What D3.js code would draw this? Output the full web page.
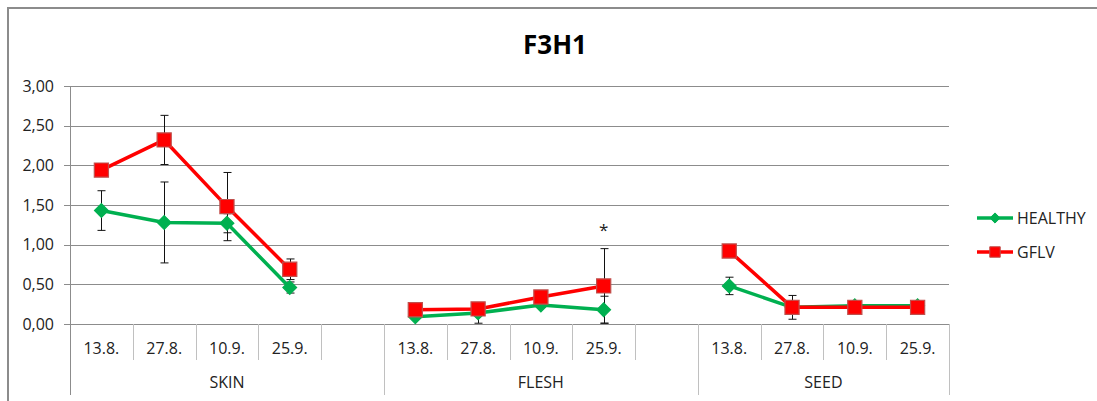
<!DOCTYPE html>
<html>
<head>
<meta charset="utf-8">
<script src="https://cdn.jsdelivr.net/npm/d3@7/dist/d3.min.js"></script>
<style>
  body { margin: 0; background: #fff; }
  svg { display: block; font-family: "Open Sans", sans-serif; }
</style>
</head>
<body>
<div class="graphic"></div>
<script>
// data
var groups = ["SKIN", "FLESH", "SEED"];
var groupSlots = [5, 5, 4];
var dates = ["13.8.", "27.8.", "10.9.", "25.9.", "",
             "13.8.", "27.8.", "10.9.", "25.9.", "",
             "13.8.", "27.8.", "10.9.", "25.9."];
var healthy    = [1.43, 1.28, 1.27, 0.46, null, 0.09, 0.14, 0.24, 0.18, null, 0.48, 0.21, 0.23, 0.23];
var healthyErr = [0.25, 0.51, 0.12, 0.07, null, 0.02, 0.13, 0.03, 0.17, null, 0.11, 0.15, 0.03, 0.03];
var gflv       = [1.94, 2.32, 1.48, 0.69, null, 0.18, 0.19, 0.34, 0.48, null, 0.92, 0.21, 0.21, 0.21];
var gflvErr    = [0.03, 0.31, 0.43, 0.13, null, 0.02, 0.02, 0.03, 0.47, null, 0.03, 0.03, 0.03, 0.03];
var yTicks = [0, 0.5, 1, 1.5, 2, 2.5, 3];
var marks = [{ i: 8, text: "*" }];

var render = function() {
  var W = 1097, H = 401;
  var left = 70, right = 949, top = 86, bottom = 324;
  var fs = 16;

  var svg = d3.select(".graphic").append("svg")
    .attr("width", W).attr("height", H);

  // chart frame
  svg.append("rect")
    .attr("x", 8).attr("y", 8).attr("width", W + 20).attr("height", H + 20)
    .attr("fill", "none").attr("stroke", "#8c8c8c").attr("stroke-width", 2);

  var x = d3.scaleBand().domain(d3.range(dates.length)).range([left, right]).padding(0);
  var y = d3.scaleLinear().domain([0, 3]).range([bottom, top]);
  var cx = function(i) { return x(i) + x.bandwidth() / 2; };

  // gridlines + y ticks
  svg.append("g").selectAll("line").data(yTicks).join("line")
    .attr("x1", left - 6).attr("x2", right)
    .attr("y1", function(d) { return Math.round(y(d)) + 0.5; })
    .attr("y2", function(d) { return Math.round(y(d)) + 0.5; })
    .attr("stroke", "#8c8c8c").attr("stroke-width", 1);

  svg.append("g").selectAll("text").data(yTicks).join("text")
    .attr("x", 54).attr("y", function(d) { return y(d) + 5.5; })
    .attr("text-anchor", "end").attr("font-size", fs).attr("fill", "#222")
    .text(function(d) { return d3.format(".2f")(d).replace(".", ","); });

  // y axis line
  svg.append("line")
    .attr("x1", left + 0.5).attr("x2", left + 0.5).attr("y1", top).attr("y2", 395)
    .attr("stroke", "#8c8c8c");

  // category dividers
  var groupEdges = [0];
  groupSlots.forEach(function(n, k) { groupEdges.push(groupEdges[k] + n); });
  var edges = d3.range(1, dates.length + 1);
  svg.append("g").selectAll("line").data(edges).join("line")
    .attr("x1", function(i) { return Math.round(i < dates.length ? x(i) : right) + 0.5; })
    .attr("x2", function(i) { return Math.round(i < dates.length ? x(i) : right) + 0.5; })
    .attr("y1", bottom)
    .attr("y2", function(i) { return groupEdges.indexOf(i) >= 0 ? 395 : 360; })
    .attr("stroke", "#c0c0c0");

  svg.append("g").selectAll("text").data(dates).join("text")
    .attr("x", function(d, i) { return cx(i); }).attr("y", 354)
    .attr("text-anchor", "middle").attr("font-size", fs).attr("fill", "#222")
    .text(function(d) { return d; });

  svg.append("g").selectAll("text").data(groups).join("text")
    .attr("x", function(d, k) {
      var a = x(groupEdges[k]);
      var b = groupEdges[k + 1] < dates.length ? x(groupEdges[k + 1]) : right;
      return (a + b) / 2;
    })
    .attr("y", 388).attr("text-anchor", "middle").attr("font-size", fs).attr("fill", "#222")
    .text(function(d) { return d; });

  // title
  svg.append("text").attr("x", 555).attr("y", 54).attr("text-anchor", "middle")
    .attr("font-size", 26).attr("font-weight", "bold").attr("fill", "#000").text("F3H1");

  var series = [
    { name: "HEALTHY", vals: healthy, err: healthyErr, color: "#00b050", shape: d3.symbolDiamond2, size: 120, stroke: "#00b050" },
    { name: "GFLV", vals: gflv, err: gflvErr, color: "#ff0000", shape: d3.symbolSquare, size: 200, stroke: "#c0504d" }
  ];

  // error bars
  series.forEach(function(s) {
    var pts = d3.range(s.vals.length).filter(function(i) { return s.vals[i] != null; });
    var g = svg.append("g").attr("stroke", "#111").attr("stroke-width", 1);
    pts.forEach(function(i) {
      var xx = Math.round(cx(i)) + 0.5;
      var hi = y(s.vals[i] + s.err[i]), lo = y(Math.max(0, s.vals[i] - s.err[i]));
      g.append("line").attr("x1", xx).attr("x2", xx).attr("y1", hi).attr("y2", lo);
      g.append("line").attr("x1", xx - 4).attr("x2", xx + 4).attr("y1", hi).attr("y2", hi);
      g.append("line").attr("x1", xx - 4).attr("x2", xx + 4).attr("y1", lo).attr("y2", lo);
    });
  });

  var line = d3.line()
    .defined(function(d) { return d.v != null; })
    .x(function(d) { return cx(d.i); })
    .y(function(d) { return y(d.v); });

  series.forEach(function(s) {
    var data = s.vals.map(function(v, i) { return { i: i, v: v }; });
    svg.append("path").datum(data).attr("d", line)
      .attr("fill", "none").attr("stroke", s.color).attr("stroke-width", 3.5)
      .attr("stroke-linejoin", "round");
    svg.append("g").selectAll("path").data(data.filter(function(d) { return d.v != null; })).join("path")
      .attr("transform", function(d) { return "translate(" + cx(d.i) + "," + y(d.v) + ")"; })
      .attr("d", d3.symbol().type(s.shape).size(s.size))
      .attr("fill", s.color).attr("stroke", s.stroke).attr("stroke-width", 1.2);
  });

  // significance marks
  svg.append("g").selectAll("text").data(marks).join("text")
    .attr("x", function(d) { return cx(d.i); })
    .attr("y", function(d) { return y(gflv[d.i] + gflvErr[d.i]) - 13; })
    .attr("text-anchor", "middle").attr("font-size", 17).attr("fill", "#222")
    .text(function(d) { return d.text; });

  // legend
  var lg = svg.append("g").selectAll("g").data(series).join("g")
    .attr("transform", function(d, k) { return "translate(977," + (218 + k * 34) + ")"; });
  lg.append("line").attr("x1", 0).attr("x2", 36)
    .attr("stroke", function(d) { return d.color; }).attr("stroke-width", 3.5);
  lg.append("path").attr("transform", "translate(18,0)")
    .attr("d", function(d) { return d3.symbol().type(d.shape).size(d.size * 0.55)(); })
    .attr("fill", function(d) { return d.color; })
    .attr("stroke", function(d) { return d.stroke; });
  lg.append("text").attr("x", 40).attr("y", 5.5).attr("font-size", fs).attr("fill", "#222")
    .text(function(d) { return d.name; });
};

render();
</script>
</body>
</html>
